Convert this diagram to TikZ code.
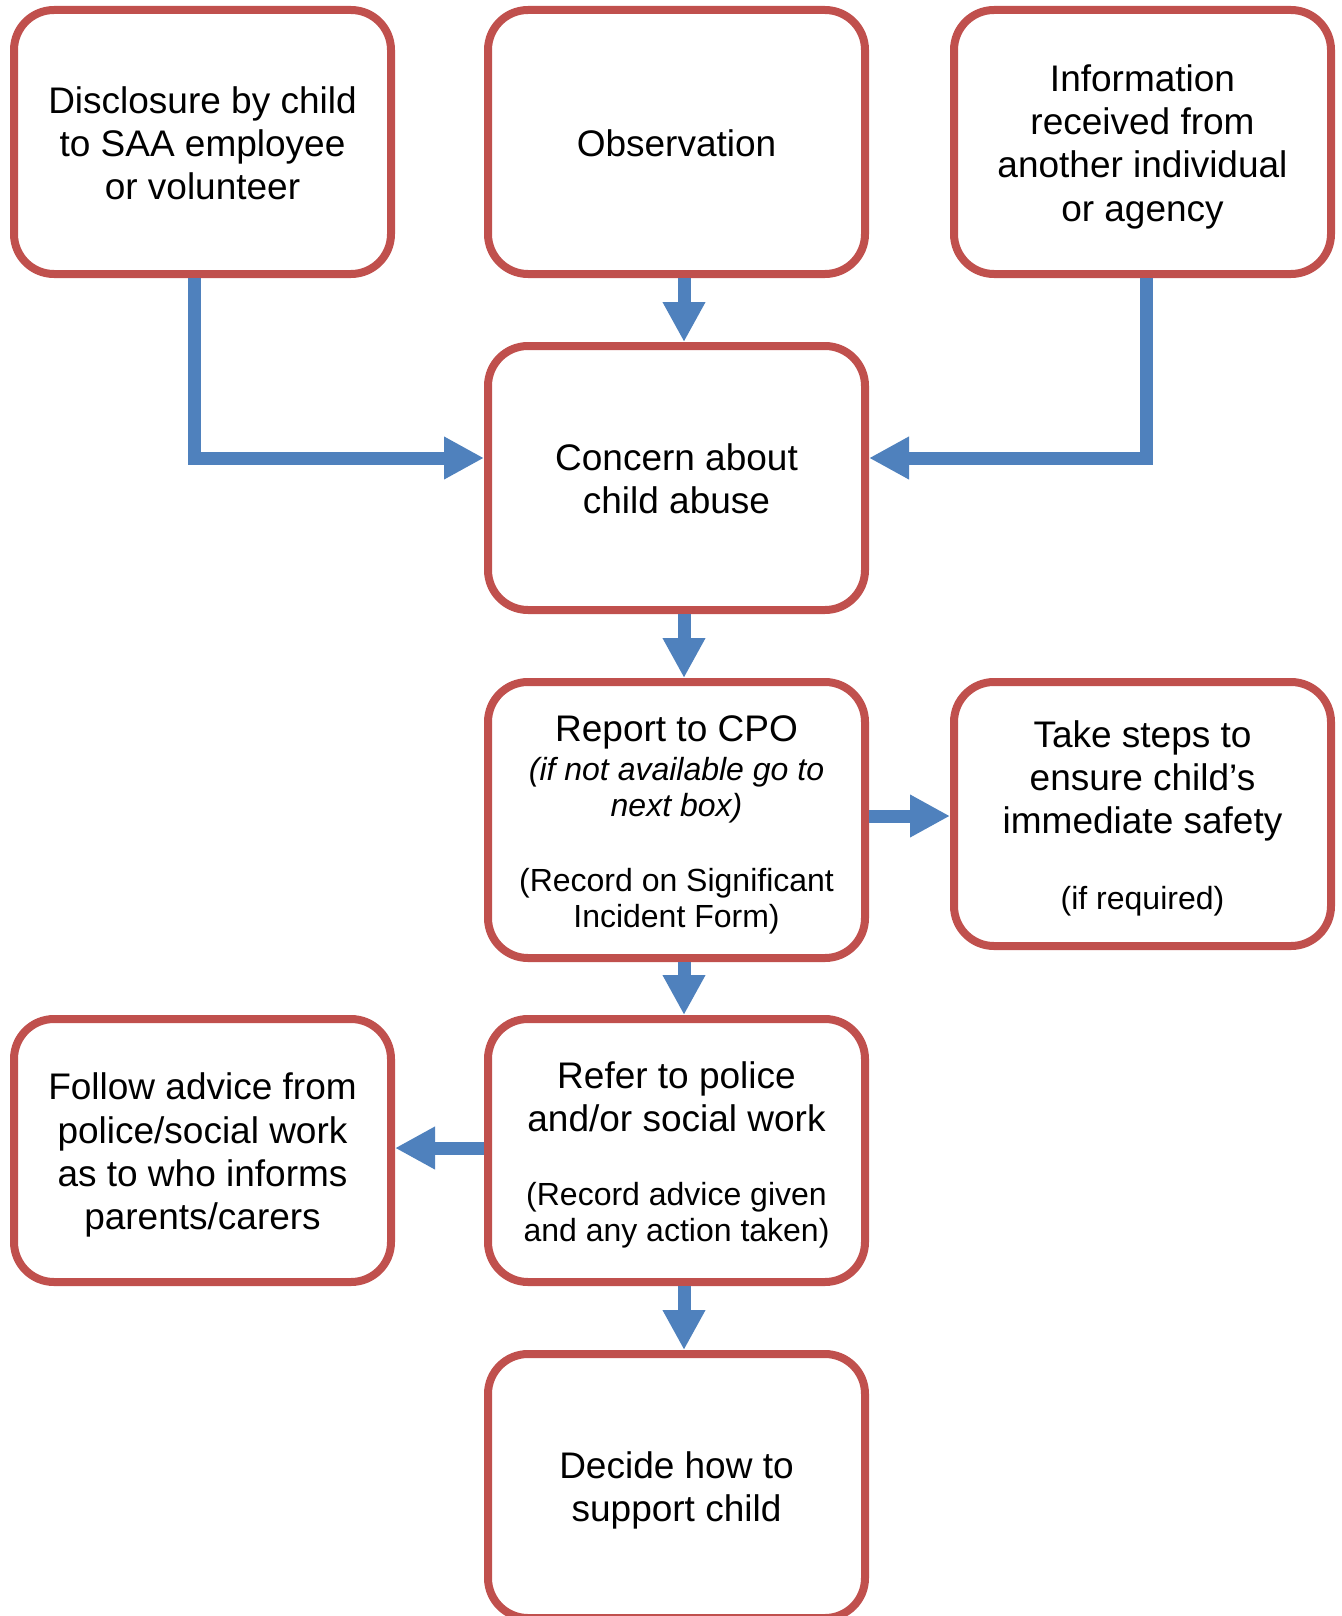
\documentclass[tikz,border=0pt]{standalone}
\usepackage{fontspec}
\setmainfont{Liberation Sans}
\usetikzlibrary{arrows.meta}
\definecolor{boxred}{HTML}{C0504D}
\definecolor{arrblue}{HTML}{4F81BD}
\newcommand{\smalltxt}{\fontsize{16}{18}\selectfont}
\newcommand{\tstr}{\rule{0pt}{18.2pt}}
\newcommand{\bstr}{\rule[-3.9pt]{0pt}{3.9pt}}
\begin{document}
\begin{tikzpicture}[x=0.5pt,y=-0.5pt,
  box/.style={draw=boxred, line width=4pt, rounded corners=20pt,
    minimum width=188.5pt, minimum height=132pt, align=center, inner sep=0pt,
    font=\fontsize{18.5}{21.65}\selectfont},
  conn/.style={draw=arrblue, line width=6.5pt, -{Triangle[length=20pt,width=20pt]}}]
\useasboundingbox (0,0) rectangle (1341,1616);
\node[box] (dis) at (202.5,142) {\tstr Disclosure by child\\to SAA employee\\or volunteer\bstr};
\node[box] (obs) at (676.5,142) {\tstr Observation\bstr};
\node[box] (inf) at (1142.5,142) {\tstr Information\\received from\\another individual\\or agency\bstr};
\node[box] (con) at (676.5,478) {\tstr Concern about\\child abuse\bstr};
\node[box, minimum height=138pt] (rep) at (676.5,820) {\tstr Report to CPO\\[-2pt]
  {\smalltxt\itshape (if not available go to}\\[-3.65pt]{\smalltxt\itshape next box)}\\[15.5pt]
  {\smalltxt (Record on Significant}\\[-3.65pt]{\smalltxt Incident Form)}\bstr};
\node[box] (take) at (1142.5,814) {\tstr Take steps to\\ensure child’s\\immediate safety\\[16pt]{\smalltxt (if required)}\bstr};
\node[box, minimum height=131.5pt] (fol) at (202.5,1150.5) {\tstr Follow advice from\\police/social work\\as to who informs\\parents/carers\bstr};
\node[box, minimum height=131.5pt] (ref) at (676.5,1150.5) {\tstr Refer to police\\and/or social work\\[15.5pt]
  {\smalltxt (Record advice given}\\[-3.65pt]{\smalltxt and any action taken)}\bstr};
\node[box] (dec) at (676.5,1486) {\tstr Decide how to\\support child\bstr};
\coordinate (lx) at (194,0);
\coordinate (rx) at (1146,0);
\coordinate (hy) at (0,458);
\coordinate (ax) at (684,0);
\coordinate (ty) at (0,816);
\coordinate (fy) at (0,1148);
\draw[conn] (dis.south -| lx) |- (con.west |- hy);
\draw[conn] (inf.south -| rx) |- (con.east |- hy);
\draw[conn] (obs.south -| ax) -- (con.north -| ax);
\draw[conn] (con.south -| ax) -- (rep.north -| ax);
\draw[conn] (rep.east |- ty) -- (take.west |- ty);
\draw[conn] (rep.south -| ax) -- (ref.north -| ax);
\draw[conn] (ref.west |- fy) -- (fol.east |- fy);
\draw[conn] (ref.south -| ax) -- (dec.north -| ax);
\end{tikzpicture}
\end{document}
